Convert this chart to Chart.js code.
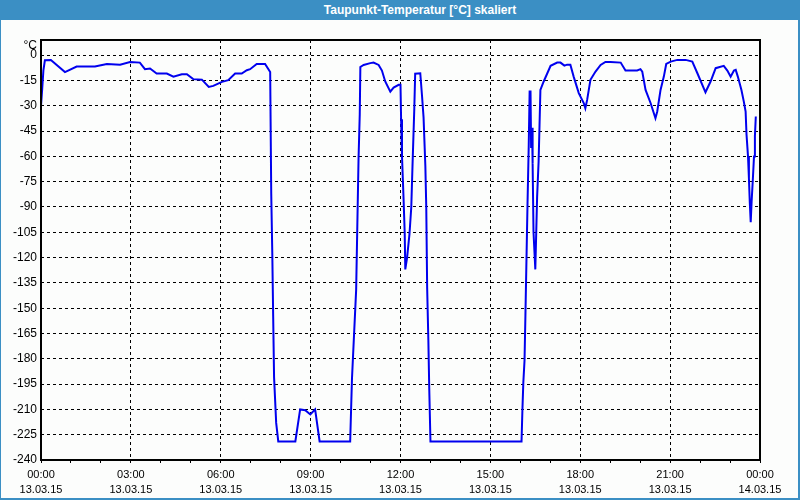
<!DOCTYPE html>
<html>
<head>
<meta charset="utf-8">
<script src="https://cdn.jsdelivr.net/npm/chart.js@4/dist/chart.umd.min.js"></script>
<style>
html,body{margin:0;padding:0;}
body{width:800px;height:500px;background:#fcfdfc;position:relative;overflow:hidden;font-family:"Liberation Sans",Arial,sans-serif;}
#title{position:absolute;left:0;top:0;width:760px;height:20px;padding-left:40px;background:#3b8fc4;color:#fff;font:bold 12px "Liberation Sans",Arial,sans-serif;line-height:20px;text-align:center;}
#wrap{position:absolute;left:0;top:20px;width:800px;height:480px;}
#frame{position:absolute;left:0;top:20px;width:797px;height:478px;border-left:1px solid #3b8fc4;border-right:2px solid #3b8fc4;border-bottom:2px solid #3b8fc4;pointer-events:none;}
</style>
</head>
<body>
<div id="title">Taupunkt-Temperatur [°C] skaliert</div>
<div id="wrap"><canvas id="c" width="800" height="480"></canvas></div>
<div id="frame"></div>
<script>
// ---- data ----
const hours = [
  0.00,0.04,0.08,0.13,0.33,0.80,1.19,1.80,2.20,2.64,2.97,3.30,3.47,3.64,3.86,4.20,4.42,4.70,4.87,5.08,
  5.37,5.60,5.75,6.04,6.25,6.48,6.70,6.87,6.98,7.20,7.48,7.65,7.685,7.72,7.75,7.78,7.85,7.92,8.49,8.65,
  8.82,8.99,9.15,9.30,10.32,10.38,10.52,10.60,10.64,10.66,10.77,10.99,11.10,11.27,11.38,11.49,11.66,11.77,11.94,12.00,
  12.02,12.05,12.10,12.14,12.16,12.22,12.30,12.36,12.40,12.46,12.49,12.66,12.72,12.77,12.83,12.86,12.89,12.93,12.96,13.00,
  16.04,16.07,16.10,16.14,16.17,16.24,16.28,16.31,16.34,16.36,16.39,16.41,16.44,16.50,16.56,16.61,16.64,16.67,16.78,17.01,
  17.23,17.34,17.47,17.56,17.67,17.78,17.95,18.12,18.17,18.23,18.34,18.51,18.68,18.84,19.01,19.35,19.51,19.90,20.01,20.07,
  20.18,20.35,20.51,20.57,20.68,20.79,20.87,21.02,21.24,21.52,21.74,21.91,22.18,22.35,22.52,22.79,22.91,23.02,23.13,23.19,
  23.26,23.38,23.46,23.52,23.55,23.60,23.63,23.66,23.69,23.72,23.76,23.80,23.83,23.86
];
const dewPoint = [
  -30,-20,-9,-3,-2.8,-10,-6.7,-6.7,-5.2,-5.6,-4,-4.4,-8.3,-7.9,-10.9,-10.9,-12.7,-11.3,-11.3,-14.2,
  -14.5,-18.8,-18.2,-15.8,-14.8,-10.9,-10.9,-8.9,-8.3,-5.2,-5.2,-10,-82,-117,-155,-191,-218,-229,-229,-210,
  -210.5,-213,-210,-229,-229,-192,-139,-61,-35,-7,-5.8,-4.7,-4.4,-5.8,-9.1,-15.6,-21.6,-19.2,-17.6,-17.6,
  -38,-60,-84,-105,-127,-120,-106,-90,-66,-32,-11,-10.7,-24.5,-37,-66,-90,-138,-169,-198,-229,
  -229,-210,-194,-181,-154,-88,-54,-21.6,-21.6,-55,-43,-64,-105,-127,-84,-63,-42,-20.6,-15.6,-6.3,
  -4.4,-4.4,-6.2,-5.6,-5.6,-12.7,-22.5,-28.5,-31.5,-26.5,-14.6,-9.7,-5.8,-4,-4,-4.4,-9.1,-9.1,-8.3,-9.7,
  -20.6,-28.5,-37.4,-33.4,-20.6,-12.7,-5.2,-3.8,-2.8,-2.8,-3.8,-10.7,-22,-15.6,-7.7,-6.3,-9.1,-12.7,-9.1,-8.7,
  -12.7,-20.6,-27.5,-33.4,-47,-60,-73,-87.6,-99,-86.8,-74,-60,-48,-36.4
];
const yTickValues = [0,-15,-30,-45,-60,-75,-90,-105,-120,-135,-150,-165,-180,-195,-210,-225,-240];
const xTimeLabels = ['00:00','03:00','06:00','09:00','12:00','15:00','18:00','21:00','00:00'];
const xDateLabels = ['13.03.15','13.03.15','13.03.15','13.03.15','13.03.15','13.03.15','13.03.15','13.03.15','14.03.15'];
const unitLabel = '°C';

const points = hours.map((h, i) => ({x: h, y: dewPoint[i]}));

const framePlugin = {
  id: 'frame',
  afterDraw(chart) {
    const {ctx, chartArea: a} = chart;
    ctx.save();
    ctx.strokeStyle = '#000';
    ctx.lineWidth = 2;
    ctx.setLineDash([]);
    ctx.beginPath();
    ctx.moveTo(a.left, a.top); ctx.lineTo(a.right, a.top);
    ctx.lineTo(a.right, a.bottom); ctx.lineTo(a.left, a.bottom); ctx.closePath();
    ctx.stroke();
    ctx.fillStyle = '#000';
    ctx.font = '12px "Liberation Sans", Arial, sans-serif';
    ctx.textAlign = 'right';
    ctx.textBaseline = 'middle';
    ctx.fillText(unitLabel, a.left - 4, a.top + 6);
    ctx.restore();
  }
};

new Chart(document.getElementById('c'), {
  type: 'line',
  data: {
    datasets: [{
      data: points,
      borderColor: '#0000ee',
      borderWidth: 2,
      pointRadius: 0,
      tension: 0,
      fill: false
    }]
  },
  options: {
    responsive: false,
    animation: false,
    devicePixelRatio: 1,
    layout: {padding: {left: 0, right: 40, top: 20, bottom: 0}},
    plugins: {legend: {display: false}, tooltip: {enabled: false}, title: {display: false}},
    scales: {
      x: {
        type: 'linear',
        min: 0, max: 24,
        afterBuildTicks(scale) {
          const t = [];
          for (let h = 0; h <= 24; h++) t.push({value: h});
          scale.ticks = t;
        },
        afterFit(scale) { scale.height = 40; },
        border: {display: false, dash: [3, 3]},
        grid: {
          color: (c) => (c.tick && c.tick.value % 3 === 0) ? '#000' : 'rgba(0,0,0,0)',
          tickColor: '#000',
          tickLength: 3,
          tickBorderDash: [],
          lineWidth: 1
        },
        ticks: {
          autoSkip: false,
          maxRotation: 0,
          padding: 4.5,
          color: '#000',
          font: {family: '"Liberation Sans", Arial, sans-serif', size: 11, lineHeight: 1.3637},
          callback(v) {
            if (v % 3 !== 0) return '';
            const i = v / 3;
            return [xTimeLabels[i], xDateLabels[i]];
          }
        }
      },
      y: {
        min: -240, max: 9,
        afterBuildTicks(scale) { scale.ticks = yTickValues.map(v => ({value: v})); },
        afterFit(scale) { scale.width = 41; },
        border: {display: false, dash: [3, 3]},
        grid: {color: '#000', lineWidth: 1, drawTicks: false},
        ticks: {
          padding: 4,
          color: '#000',
          font: {family: '"Liberation Sans", Arial, sans-serif', size: 12},
          callback(v) { return String(v); }
        }
      }
    }
  },
  plugins: [framePlugin]
});
</script>
</body>
</html>
